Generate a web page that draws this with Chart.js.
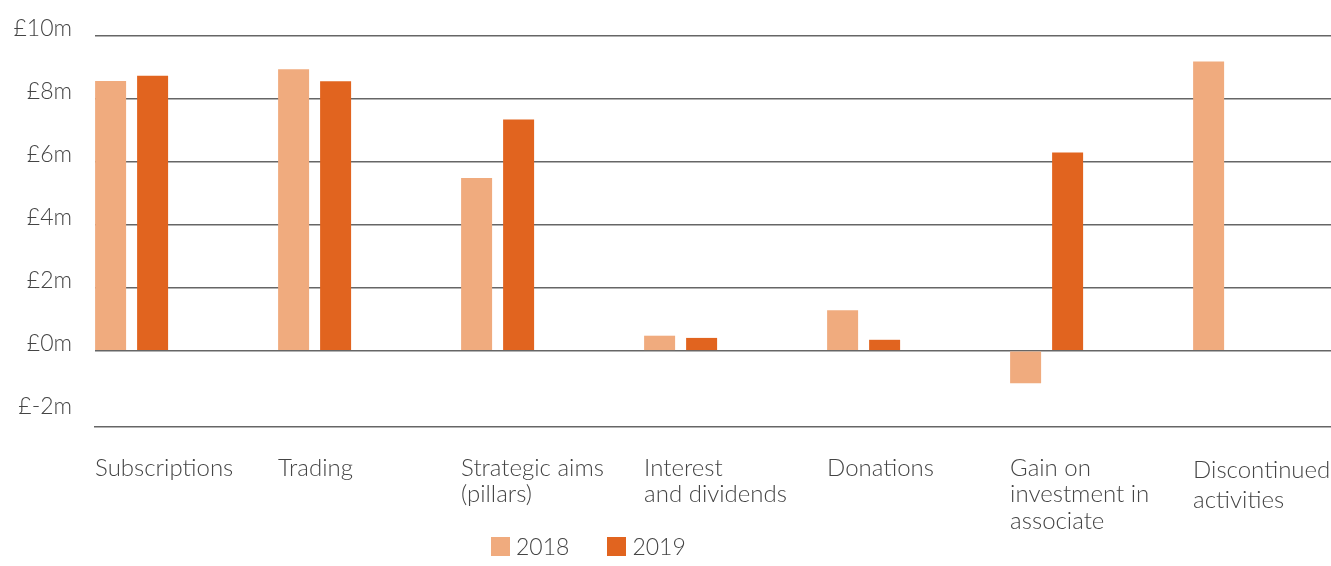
<!DOCTYPE html>
<html>
<head>
<meta charset="utf-8">
<title>Income by source</title>
<script src="https://cdn.jsdelivr.net/npm/chart.js@4.4.1/dist/chart.umd.min.js"></script>
<style>
  html, body { margin: 0; padding: 0; background: #fff; overflow: hidden; }
  #wrap { position: relative; width: 1331px; height: 566px; }
  #legend { position: absolute; left: 491px; top: 534px; display: flex; font: 300 23px Lato, "Open Sans", sans-serif; color: #444; line-height: 24px; }
  .item { display: flex; align-items: center; margin-right: 38px; }
  .swatch { width: 19px; height: 19px; margin-right: 6px; }
</style>
</head>
<body>
<div id="wrap">
  <canvas id="incomeChart"></canvas>
  <div id="legend"></div>
</div>
<script>
const categories = [
  ['Subscriptions'],
  ['Trading'],
  ['Strategic aims', '(pillars)'],
  ['Interest', 'and dividends'],
  ['Donations'],
  ['Gain on', 'investment in', 'associate'],
  ['Discontinued', 'activities']
];
const years = ['2018', '2019'];
const income2018 = [8.57, 8.94, 5.49, 0.48, 1.29, -1.03, 9.19];
const income2019 = [8.74, 8.56, 7.35, 0.41, 0.35, 6.30, null];
const yTicks = [-2, 0, 2, 4, 6, 8, 10];
const colors = ['#f0ab7e', '#e1641f'];

const FONT = 'Lato, "Open Sans", sans-serif';
const TEXT = '#444';
const RULE = '#666';

// bars sit on a linear x scale so each pair hugs the left of its slot
const toPoints = values => values.map((v, i) => ({ x: i, y: v }));

const barStyle = { categoryPercentage: 0.459, barPercentage: 0.738, borderWidth: 0 };

const chart = new Chart(document.getElementById('incomeChart'), {
  type: 'bar',
  data: {
    datasets: [
      { label: years[0], data: toPoints(income2018), backgroundColor: colors[0], ...barStyle },
      { label: years[1], data: toPoints(income2019), backgroundColor: colors[1], ...barStyle }
    ]
  },
  options: {
    responsive: true,
    maintainAspectRatio: false,
    animation: false,
    layout: { padding: { top: 36, left: 0, right: 0, bottom: 0 } },
    plugins: { legend: { display: false }, tooltip: { enabled: false } },
    scales: {
      x: {
        type: 'linear',
        offset: false,
        min: -0.2,
        max: 6.554,
        grid: { display: false },
        border: { display: true, color: RULE, width: 1.5 },
        afterBuildTicks: s => { s.ticks = categories.map((c, i) => ({ value: i })); },
        afterFit: s => { s.height = 139; s.paddingLeft = 0; s.paddingRight = 0; },
        ticks: {
          autoSkip: false,
          maxRotation: 0,
          minRotation: 0,
          align: 'start',
          labelOffset: -36.5,
          padding: 20,
          color: TEXT,
          // the last label is set a little looser than the rest
          font: ctx => ({
            family: FONT,
            size: 24,
            weight: 300,
            lineHeight: ctx.index === categories.length - 1 ? 1.27 : 1.1
          }),
          callback: (v, i) => categories[i]
        }
      },
      y: {
        min: -2.42,
        max: 10,
        afterBuildTicks: s => { s.ticks = yTicks.map(v => ({ value: v })); },
        afterFit: s => { s.width = 95; s.paddingTop = 0; s.paddingBottom = 0; },
        grid: {
          color: ctx => (ctx.tick && ctx.tick.value === -2) ? 'rgba(0,0,0,0)' : RULE,
          lineWidth: 1.5,
          drawTicks: false
        },
        border: { display: false },
        ticks: {
          padding: 23,
          labelOffset: -7,
          color: TEXT,
          font: { family: FONT, size: 23, weight: 300 },
          callback: v => '£' + v + 'm'
        }
      }
    }
  }
});

// legend below the axis labels
const legend = document.getElementById('legend');
chart.data.datasets.forEach(ds => {
  const item = document.createElement('div');
  item.className = 'item';
  const sw = document.createElement('span');
  sw.className = 'swatch';
  sw.style.background = ds.backgroundColor;
  const txt = document.createElement('span');
  txt.textContent = ds.label;
  item.appendChild(sw);
  item.appendChild(txt);
  legend.appendChild(item);
});
</script>
</body>
</html>
